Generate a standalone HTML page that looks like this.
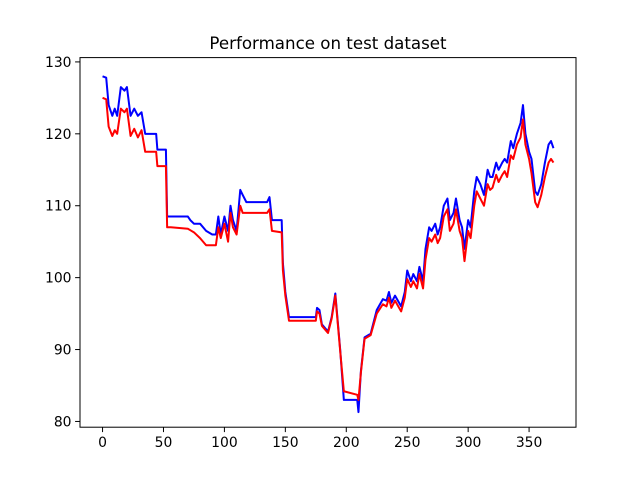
<!DOCTYPE html>
<html><head><meta charset="utf-8">
<style>
body{margin:0;background:#fff;}
svg{display:block;font-family:"DejaVu Sans","Liberation Sans",sans-serif;}
</style></head>
<body>
<svg id="chart" width="640" height="480">
<rect width="640" height="480" fill="#fff"/>
<text x="328" y="49" font-size="16.67" text-anchor="middle">Performance on test dataset</text>
<g id="plot"></g>
<rect x="80" y="57.6" width="496" height="369.6" fill="none" stroke="#000" stroke-width="1"/>
</svg>
<script>
const xs = [0,3,5,8,10,12,15,18,20,23,26,29,32,35,44,45,52,53,56,70,72,75,80,85,90,93,95,97,100,103,105,107,110,113,115,118,135,137,139,147,148,150,153,175,176,178,180,185,188,191,195,198,209,210,212,215,220,225,230,233,235,237,240,245,248,250,253,255,258,260,263,265,268,270,273,275,277,280,283,285,288,290,293,295,297,300,302,305,307,310,313,316,318,320,323,325,328,330,332,335,337,340,343,345,347,350,352,355,357,360,363,366,368,370];
const blue = [128,127.8,124,122.5,123.5,122.5,126.5,126,126.5,122.5,123.5,122.5,123,120,120,117.8,117.8,108.5,108.5,108.5,108,107.5,107.5,106.5,106,106,108.5,106,108.5,106.5,110,108,106.5,112.2,111.5,110.5,110.5,111.2,108,108,102,98,94.5,94.5,95.8,95.5,93.5,92.5,94.5,97.8,90,83,83,81.3,87,91.7,92.2,95.5,97,96.8,98,96.5,97.5,96,98,101,99.5,100.5,99.5,101.5,99.5,104,107,106.5,107.5,106,107,110,111,108,109,111,108,107,104,108,107,112,114,113,111.5,115,114,114,116,115,116,116.5,116,119,118,120,121.5,124,120,117.5,116.5,112,111.5,113,116,118.5,119,118];
const red = [125,124.8,121,119.7,120.5,120,123.5,123,123.5,119.7,120.7,119.5,120.5,117.5,117.5,115.5,115.5,107,107,106.8,106.6,106.3,105.5,104.5,104.5,104.5,107,105.5,107.5,105,109,107,106,110,109,109,109,109.5,106.5,106.3,101,97.5,94,94,95.3,95,93.3,92.3,94.3,97.5,89.8,84.2,83.7,83,86.8,91.5,92,95,96.3,96,97.2,95.8,96.8,95.3,97.2,99.8,98.7,99.5,98.5,100.5,98.5,102.5,105.5,105,106,104.8,105.5,108.5,109.5,106.5,107.5,109.5,106.5,105.5,102.3,106.5,105.5,110,112,111,110,113,112.2,112.5,114.3,113.3,114.3,114.8,114,117,116.5,118.5,119.5,122,118.5,116.5,114.5,110.5,109.8,111.5,114,116,116.5,116];
const yTicks = [80,90,100,110,120,130];
const xTicks = [0,50,100,150,200,250,300,350];

const L=80,R=576,T=57.6,B=427.2;
const xmin=-18.5,xmax=388.5,ymin=79.2,ymax=130.6;
const sx=v=>L+(v-xmin)/(xmax-xmin)*(R-L);
const sy=v=>B-(v-ymin)/(ymax-ymin)*(B-T);
const NS="http://www.w3.org/2000/svg";
const plot=document.getElementById('plot');
function mk(tag,attrs){const e=document.createElementNS(NS,tag);for(const k in attrs)e.setAttribute(k,attrs[k]);return e;}

xTicks.forEach(t=>{
  const g=mk('g',{});
  
  
  g.appendChild(mk('line',{x1:sx(t),x2:sx(t),y1:B,y2:B+4.9,stroke:'#000'}));
  const tx=mk('text',{x:sx(t),y:B+20,'font-size':13.9,'text-anchor':'middle'});
  tx.textContent=t;g.appendChild(tx);plot.appendChild(g);
});
yTicks.forEach(t=>{
  const g=mk('g',{});
  
  
  g.appendChild(mk('line',{x1:L-4.9,x2:L,y1:sy(t),y2:sy(t),stroke:'#000'}));
  const tx=mk('text',{x:L-8.5,y:sy(t)+5,'font-size':13.9,'text-anchor':'end'});
  tx.textContent=t;g.appendChild(tx);plot.appendChild(g);
});
function line(vals,color,name){
  const p=mk('polyline',{points:vals.map((v,i)=>sx(xs[i])+','+sy(v)).join(' '),fill:'none',stroke:color,'stroke-width':2,'stroke-linejoin':'round'});
  
  
  plot.appendChild(p);
}
line(blue,'#0000ff','series-blue');
line(red,'#ff0000','series-red');
</script>
</body></html>
